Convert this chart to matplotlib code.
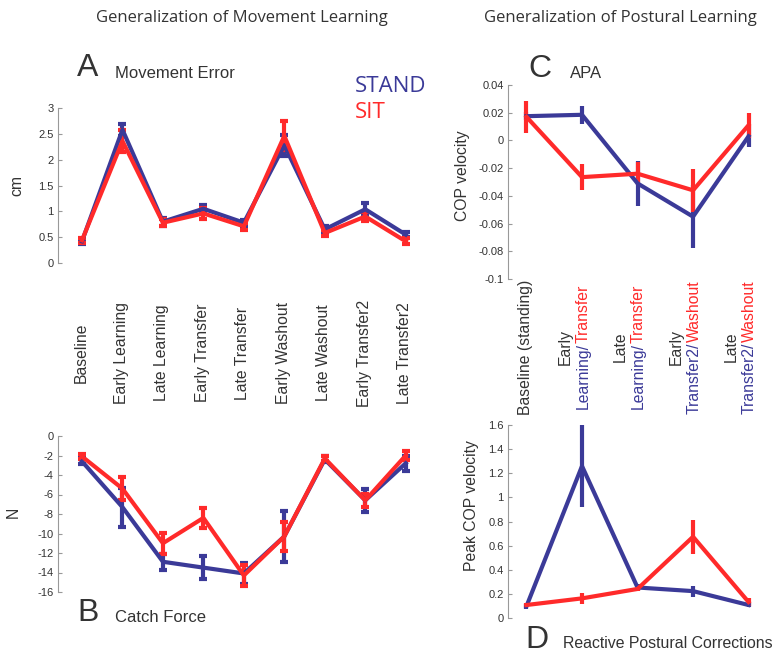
import matplotlib
matplotlib.use("Agg")
import matplotlib.pyplot as plt
import numpy as np

plt.rcParams['font.family'] = ['Liberation Sans', 'DejaVu Sans']
plt.rcParams['axes.unicode_minus'] = False

# ---------------- data ----------------
move_labels = ["Baseline", "Early Learning", "Late Learning", "Early Transfer",
               "Late Transfer", "Early Washout", "Late Washout", "Early Transfer2",
               "Late Transfer2"]
err_stand = [0.42, 2.58, 0.80, 1.05, 0.78, 2.28, 0.65, 1.04, 0.55]
err_stand_se = [0.05, 0.12, 0.08, 0.07, 0.06, 0.20, 0.06, 0.13, 0.05]
err_sit = [0.44, 2.36, 0.78, 0.96, 0.71, 2.46, 0.58, 0.90, 0.42]
err_sit_se = [0.05, 0.22, 0.07, 0.10, 0.07, 0.28, 0.05, 0.08, 0.06]

force_stand = [-2.6, -7.3, -12.9, -13.5, -14.1, -10.3, -2.4, -6.6, -2.8]
force_stand_se = [0.3, 2.0, 0.8, 1.2, 1.1, 2.6, 0.3, 1.2, 0.8]
force_sit = [-2.1, -5.4, -11.0, -8.4, -14.3, -10.3, -2.3, -6.6, -2.0]
force_sit_se = [0.3, 1.2, 1.1, 1.0, 1.1, 1.5, 0.3, 0.7, 0.5]

post_labels = [
    [[("Baseline (standing)", "#333333")]],
    [[("Early", "#333333")], [("Learning/", "#3b3a98"), ("Transfer", "#ff2a2a")]],
    [[("Late", "#333333")], [("Learning/", "#3b3a98"), ("Transfer", "#ff2a2a")]],
    [[("Early", "#333333")], [("Transfer2/", "#3b3a98"), ("Washout", "#ff2a2a")]],
    [[("Late", "#333333")], [("Transfer2/", "#3b3a98"), ("Washout", "#ff2a2a")]],
]
apa_stand = [0.0175, 0.0185, -0.031, -0.055, 0.003]
apa_stand_se = [0.003, 0.0065, 0.016, 0.0225, 0.0075]
apa_sit = [0.017, -0.0265, -0.024, -0.036, 0.011]
apa_sit_se = [0.0115, 0.0095, 0.0085, 0.0155, 0.009]

rpc_stand = [0.10, 1.26, 0.255, 0.225, 0.11]
rpc_stand_se = [0.02, 0.34, 0.03, 0.045, 0.02]
rpc_sit = [0.11, 0.165, 0.243, 0.675, 0.135]
rpc_sit_se = [0.015, 0.045, 0.02, 0.14, 0.03]

BLUE = "#3b3a98"
RED = "#ff2a2a"
TXT = "#333333"
GREY = "#999999"

W, H = 780, 654
fig = plt.figure(figsize=(W / 100, H / 100), dpi=100)


def px_axes(x0, y_top, x1, y_bot):
    return fig.add_axes([x0 / W, 1 - y_bot / H, (x1 - x0) / W, (y_bot - y_top) / H])


def style(ax, ticks):
    for s in ["top", "right", "bottom"]:
        ax.spines[s].set_visible(False)
    ax.spines["left"].set_color(GREY)
    ax.spines["left"].set_linewidth(0.8)
    ax.set_xticks([])
    ax.set_yticks(ticks)
    ax.set_yticklabels(["%g" % t for t in ticks])
    ax.tick_params(axis="y", direction="in", length=3, width=0.8, color=GREY,
                   labelsize=8, labelcolor=TXT, pad=3)
    ax.patch.set_alpha(0)


def series(ax, x, y, e, color, caps=True):
    ax.errorbar(x, y, yerr=e, color=color, lw=3, elinewidth=3,
                capsize=2.8 if caps else 0, capthick=3, clip_on=False)


def ftext(xp, yp, s, **kw):
    kw.setdefault("color", TXT)
    return fig.text(xp / W, 1 - yp / H, s, **kw)


# ---- Panel A ----
xA = np.arange(1, 10)
axA = px_axes(58, 108, 430, 263)
series(axA, xA, err_stand, err_stand_se, BLUE)
series(axA, xA, err_sit, err_sit_se, RED)
axA.set_xlim(0.407, 9.6)
axA.set_ylim(0, 3)
style(axA, np.arange(0, 3.01, 0.5))

# ---- Panel B ----
axB = px_axes(58, 436, 430, 592)
series(axB, xA, force_stand, force_stand_se, BLUE)
series(axB, xA, force_sit, force_sit_se, RED)
axB.set_xlim(0.407, 9.6)
axB.set_ylim(-16, 0)
style(axB, np.arange(-16, 0.1, 2))

# category labels for A (between panels)
for i, lab in enumerate(move_labels):
    xpix = 58 + (xA[i] - 0.407) / (9.6 - 0.407) * 372
    ftext(xpix - 1, 353, lab, rotation=90, ha="center", va="center", fontsize=11.3)

# ---- Panel C ----
xC = np.arange(1, 6)
axC = px_axes(508, 85, 768, 279)
series(axC, xC, apa_stand, apa_stand_se, BLUE, caps=False)
series(axC, xC, apa_sit, apa_sit_se, RED, caps=False)
axC.set_xlim(0.667, 5.35)
axC.set_ylim(-0.1, 0.04)
style(axC, [0.04, 0.02, 0, -0.02, -0.04, -0.06, -0.08, -0.1])

# ---- Panel D ----
axD = px_axes(508, 425, 768, 618.3)
series(axD, xC, rpc_stand, rpc_stand_se, BLUE, caps=False)
series(axD, xC, rpc_sit, rpc_sit_se, RED, caps=False)
axD.set_xlim(0.667, 5.35)
axD.set_ylim(0, 1.6)
style(axD, np.round(np.arange(0, 1.61, 0.2), 1))

# multi-coloured rotated labels for C/D
renderer = fig.canvas.get_renderer()
for i, lines in enumerate(post_labels):
    xpix = 508 + (xC[i] - 0.667) / (5.35 - 0.667) * 260
    n = len(lines)
    if n == 1:
        xs = [xpix - 1]
    else:
        xs = [xpix - 17, xpix + 1]
    for xl, parts in zip(xs, lines):
        ts = [ftext(0, 0, s, color=c, rotation=90, ha="center", va="bottom",
                    fontsize=11.3) for s, c in parts]
        lens = [t.get_window_extent(renderer).height for t in ts]
        ystart = 347 + sum(lens) / 2
        for t, L in zip(ts, lens):
            t.set_position((xl / W, 1 - ystart / H))
            ystart -= L

# ---- y labels ----
ftext(17, 185, "cm", rotation=90, ha="center", va="center", fontsize=11.3)
ftext(13, 512, "N", rotation=90, ha="center", va="center", fontsize=11.3)
ftext(462, 176, "COP velocity", rotation=90, ha="center", va="center", fontsize=11.3)
ftext(472, 506, "Peak COP velocity", rotation=90, ha="center", va="center", fontsize=11.3)

# ---- titles / panel letters ----
ftext(242, 18, "Generalization of Movement Learning", ha="center", va="center",
      fontsize=12, family=["Open Sans", "DejaVu Sans"])
ftext(620, 18, "Generalization of Postural Learning", ha="center", va="center",
      fontsize=12, family=["Open Sans", "DejaVu Sans"])

ftext(77, 68, "A", ha="left", va="center", fontsize=23)
ftext(115, 73, "Movement Error", ha="left", va="center", fontsize=12)
ftext(77, 613, "B", ha="left", va="center", fontsize=23)
ftext(115, 618, "Catch Force", ha="left", va="center", fontsize=12)
ftext(528, 69, "C", ha="left", va="center", fontsize=23)
ftext(570, 74, "APA", ha="left", va="center", fontsize=12)
ftext(525, 640, "D", ha="left", va="center", fontsize=23)
ftext(563, 644, "Reactive Postural Corrections", ha="left", va="center", fontsize=11.4)

ftext(355, 86, "STAND", color=BLUE, ha="left", va="center", fontsize=16,
      family=["Open Sans", "DejaVu Sans"])
ftext(355, 113, "SIT", color=RED, ha="left", va="center", fontsize=16,
      family=["Open Sans", "DejaVu Sans"])

fig.savefig("out.png", dpi=100)
